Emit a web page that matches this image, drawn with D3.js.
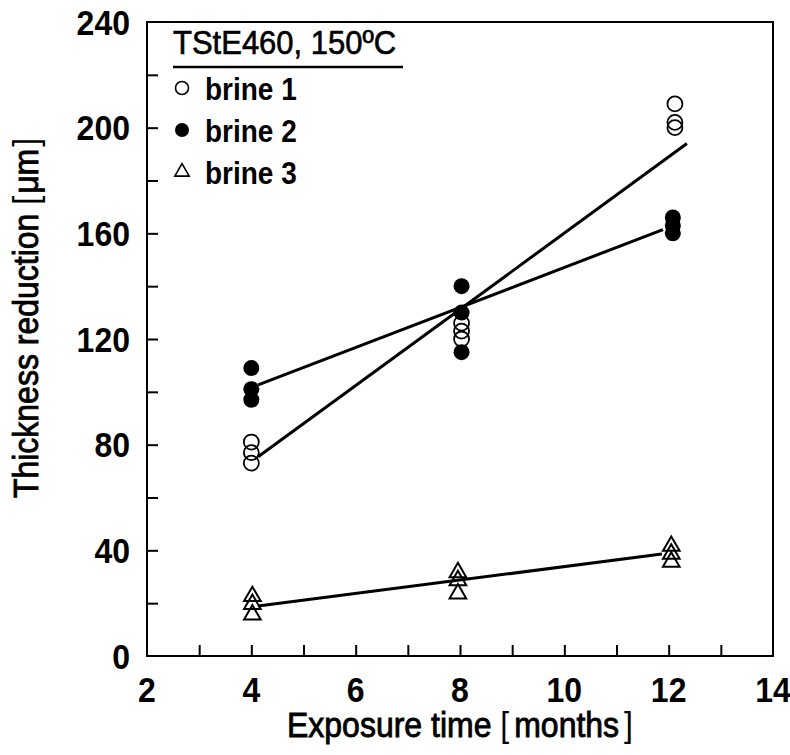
<!DOCTYPE html>
<html>
<head>
<meta charset="utf-8">
<script src="https://cdn.jsdelivr.net/npm/d3@7"></script>
<style>
  body { margin: 0; background: #fff; }
  text { font-family: "Liberation Sans", Arial, sans-serif; fill: #000; }
</style>
</head>
<body>
<script>
var width = 790;
var height = 755;
var margin = {left: 147, right: 17, top: 22, bottom: 99};

// values
var xTicks = [2, 4, 6, 8, 10, 12, 14];
var yTicks = [0, 40, 80, 120, 160, 200, 240];

var brine1X = [4.0, 4.0, 4.0, 8.03, 8.03, 8.03, 12.12, 12.12, 12.12];
var brine1Y = [81, 77, 73, 126, 123, 120, 209, 202, 200];
var brine2X = [4.0, 4.0, 4.0, 8.03, 8.03, 8.03, 12.08, 12.08, 12.08];
var brine2Y = [109, 101, 97, 140, 130, 115, 166, 163, 160];
var brine3X = [4.02, 4.02, 4.02, 7.96, 7.96, 7.96, 12.05, 12.05, 12.05];
var brine3Y = [23, 20, 16, 32, 29, 24, 42, 39, 36];

var fit1 = [[4.13, 75.4], [12.35, 194]];
var fit2 = [[4.13, 102.6], [11.89, 161.4]];
var fit3 = [[4.13, 18.9], [11.87, 38.6]];

var legendTitle = "TStE460, 150\u00baC";
var legendNames = ["brine 1", "brine 2", "brine 3"];

var svg = d3.select("body").append("svg")
  .attr("width", width)
  .attr("height", height);

var x = d3.scaleLinear().domain([2, 14]).range([margin.left, width - margin.right]);
var y = d3.scaleLinear().domain([0, 240]).range([height - margin.bottom, margin.top]);

// text is stretched upright a bit to look like the condensed face of the original
var tall = function(px, py, extra) {
  return "translate(" + px + "," + py + ")" + (extra || "") + " scale(1,1.1)";
};

// frame
svg.append("rect")
  .attr("x", x(2)).attr("y", y(240))
  .attr("width", x(14) - x(2)).attr("height", y(0) - y(240))
  .attr("fill", "none").attr("stroke", "#000").attr("stroke-width", 2);

// inward ticks
svg.append("g")
  .attr("transform", "translate(0," + y(0) + ")")
  .call(d3.axisBottom(x).tickValues(d3.range(3, 14)).tickSize(-11).tickFormat(""))
  .call(function(g) { g.select(".domain").remove(); })
  .selectAll("line").attr("stroke-width", 2);

svg.append("g")
  .attr("transform", "translate(" + x(2) + ",0)")
  .call(d3.axisLeft(y).tickValues(d3.range(20, 240, 20)).tickSize(-11).tickFormat(""))
  .call(function(g) { g.select(".domain").remove(); })
  .selectAll("line").attr("stroke-width", 2);

// tick labels
svg.selectAll(".xlab")
  .data(xTicks)
  .enter().append("text")
  .attr("transform", function(d) { return tall(x(d), y(0) + 46); })
  .attr("text-anchor", "middle")
  .style("font-size", "32px")
  .style("font-weight", "bold")
  .text(function(d) { return d; });

svg.selectAll(".ylab")
  .data(yTicks)
  .enter().append("text")
  .attr("transform", function(d) { return tall(x(2) - 17, y(d)); })
  .attr("dy", "0.36em")
  .attr("text-anchor", "end")
  .style("font-size", "32px")
  .style("font-weight", "bold")
  .text(function(d) { return d; });

// axis titles
var xt = svg.append("text")
  .attr("transform", tall(460, 737))
  .attr("text-anchor", "middle")
  .attr("stroke", "#000").attr("stroke-width", 0.8)
  .style("font-size", "32px");
xt.append("tspan").text("Exposure time ");
xt.append("tspan").attr("stroke-width", 0).text("[");
xt.append("tspan").attr("dx", 5).text("months");
xt.append("tspan").attr("dx", 5).attr("stroke-width", 0).text("]");

var yt = svg.append("text")
  .attr("transform", tall(38, 318, " rotate(-90)"))
  .attr("text-anchor", "middle")
  .attr("stroke", "#000").attr("stroke-width", 0.8)
  .style("font-size", "32px");
yt.append("tspan").text("Thickness reduction ");
yt.append("tspan").attr("stroke-width", 0).text("[");
yt.append("tspan").attr("dx", 2).text("\u03bcm");
yt.append("tspan").attr("dx", 2).attr("stroke-width", 0).text("]");

// fit lines
var line = d3.line()
  .x(function(d) { return x(d[0]); })
  .y(function(d) { return y(d[1]); });

svg.selectAll(".fit")
  .data([fit1, fit2, fit3])
  .enter().append("path")
  .attr("d", line)
  .attr("fill", "none")
  .attr("stroke", "#000")
  .attr("stroke-width", 3);

var tri = d3.symbol().type(d3.symbolTriangle).size(120);

// markers
svg.selectAll(".b1")
  .data(d3.zip(brine1X, brine1Y))
  .enter().append("circle")
  .attr("cx", function(d) { return x(d[0]); })
  .attr("cy", function(d) { return y(d[1]); })
  .attr("r", 7.5)
  .attr("fill", "none")
  .attr("stroke", "#000")
  .attr("stroke-width", 1.8);

svg.selectAll(".b2")
  .data(d3.zip(brine2X, brine2Y))
  .enter().append("circle")
  .attr("cx", function(d) { return x(d[0]); })
  .attr("cy", function(d) { return y(d[1]); })
  .attr("r", 8)
  .attr("fill", "#000");

svg.selectAll(".b3")
  .data(d3.zip(brine3X, brine3Y))
  .enter().append("path")
  .attr("transform", function(d) { return "translate(" + x(d[0]) + "," + (y(d[1]) + 1) + ")"; })
  .attr("d", tri)
  .attr("fill", "none")
  .attr("stroke", "#000")
  .attr("stroke-width", 2);

// legend
svg.append("text")
  .attr("transform", tall(173, 54))
  .attr("stroke", "#000").attr("stroke-width", 0.6)
  .style("font-size", "31px")
  .text(legendTitle);

svg.append("line")
  .attr("x1", 173).attr("x2", 403)
  .attr("y1", 67).attr("y2", 67)
  .attr("stroke", "#000").attr("stroke-width", 2.5);

var legend = svg.selectAll(".leg")
  .data(legendNames)
  .enter().append("g")
  .attr("transform", function(d, i) { return "translate(182," + (88 + i * 42) + ")"; });

legend.append("text")
  .attr("transform", tall(23, 12))
  .style("font-size", "28px")
  .style("font-weight", "bold")
  .text(function(d) { return d; });

legend.filter(function(d, i) { return i === 0; }).append("circle")
  .attr("r", 6.5).attr("fill", "none").attr("stroke", "#000").attr("stroke-width", 1.6);
legend.filter(function(d, i) { return i === 1; }).append("circle")
  .attr("r", 7).attr("fill", "#000");
legend.filter(function(d, i) { return i === 2; }).append("path")
  .attr("d", d3.symbol().type(d3.symbolTriangle).size(90))
  .attr("fill", "none").attr("stroke", "#000").attr("stroke-width", 1.6);
</script>
</body>
</html>
